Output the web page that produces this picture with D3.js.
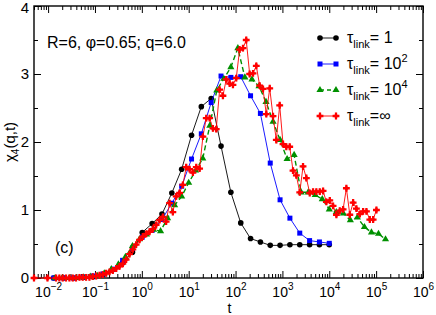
<!DOCTYPE html>
<html>
<head>
<meta charset="utf-8">
<script src="https://cdn.jsdelivr.net/npm/d3@7"></script>
<style>
  body { margin: 0; background: #fff; }
  svg { font-family: "Liberation Sans", Arial, sans-serif; }
</style>
</head>
<body>
<div id="chart"></div>
<script>
// time grid shared by tau_link = 1 and tau_link = 10^2
var tShort = [0.0132, 0.0214, 0.0347, 0.0562, 0.0912, 0.148, 0.240, 0.389, 0.631, 1.02,
  1.66, 2.69, 4.37, 7.08, 11.5, 18.6, 30.2, 49.0, 79.4, 129, 209, 339, 550, 891,
  1445, 2344, 3802, 6166, 10000];
var chiLink1 = [0, 0, 0, 0.01, 0.02, 0.05, 0.12, 0.22, 0.38, 0.67,
  0.80, 0.94, 1.25, 1.60, 2.10, 2.52, 2.64, 1.94, 1.26, 0.81, 0.58, 0.53, 0.48, 0.48,
  0.49, 0.49, 0.49, 0.49, 0.49];
var chiLink100 = [0, 0, 0, 0.01, 0.03, 0.06, 0.13, 0.26, 0.44, 0.60,
  0.70, 0.86, 1.10, 1.35, 1.75, 2.12, 2.58, 2.97, 2.95, 2.96, 2.68, 2.42, 1.69, 1.15,
  0.88, 0.66, 0.55, 0.53, 0.51];

// tau_link = 10^4
var tLink1e4 = [0.0141, 0.02, 0.0282, 0.0398, 0.0562, 0.0794, 0.112, 0.158, 0.224, 0.316,
  0.447, 0.631, 0.891, 1.26, 1.78, 2.51, 3.55, 5.01, 7.08, 10, 14.1, 20.0, 28.2, 39.8,
  56.2, 79.4, 112, 158, 224, 316, 447, 631, 891, 1259, 1778, 2512, 3548, 5012, 7079,
  10000, 14125, 19953, 28184, 39811, 56234, 79433, 112202, 158489];
var chiLink1e4 = [0, 0, 0, 0, 0.01, 0.02, 0.03, 0.07, 0.13, 0.20,
  0.31, 0.47, 0.57, 0.64, 0.71, 0.69, 0.88, 1.07, 1.20, 1.40, 1.58, 1.76, 2.24, 2.76,
  2.93, 3.10, 3.38, 2.95, 2.92, 2.82, 2.59, 2.30, 2.03, 1.75, 1.81, 1.26, 1.26, 1.22, 1.16,
  1.01, 0.97, 0.95, 0.85, 0.89, 0.75, 0.67, 0.65, 0.57];

// tau_link = infinity
var tLinkInf = [0.005, 0.0097, 0.0148, 0.0174, 0.0205, 0.0241, 0.0285, 0.0336, 0.0394, 0.0467,
  0.0548, 0.0646, 0.0762, 0.0897, 0.106, 0.125, 0.147, 0.173, 0.204, 0.240,
  0.284, 0.334, 0.393, 0.462, 0.546, 0.643, 0.755, 0.893, 1.05, 1.24,
  1.46, 1.72, 2.02, 2.39, 2.81, 3.30, 3.91, 4.59, 5.41, 6.39,
  7.52, 8.85, 10.45, 12.3, 14.5, 17.1, 20.1, 23.7, 28.0, 32.9,
  38.7, 45.7, 53.8, 63.3, 74.8, 88.0, 103.5, 122, 144, 169,
  200, 236, 277, 327, 385, 453, 536, 630, 741, 875,
  1030, 1211, 1432, 1683, 1982, 2344, 2754, 3243, 3828, 4508,
  5297, 6266, 7379, 8670, 10250, 12050, 14190, 16750, 19720, 23170,
  27420, 32280, 37930, 44870, 52720, 62090, 73280, 86300, 101400];
var chiLinkInf = [0, 0, 0, 0, 0, 0, 0, 0, 0, 0.01,
  0.01, 0.01, 0.01, 0.02, 0.03, 0.04, 0.05, 0.07, 0.09, 0.11,
  0.14, 0.17, 0.21, 0.27, 0.35, 0.42, 0.49, 0.56, 0.61, 0.65,
  0.68, 0.72, 0.78, 0.85, 0.90, 0.83, 1.10, 0.97, 1.20, 1.25,
  1.37, 1.63, 1.60, 1.55, 1.63, 1.61, 2.08, 2.35, 2.35, 2.20,
  2.19, 2.77, 2.68, 2.92, 2.86, 2.84, 2.94, 3.36, 3.38, 3.50,
  3.00, 3.01, 3.12, 2.83, 2.78, 2.41, 2.79, 2.38, 2.03, 2.54,
  1.97, 1.93, 1.93, 1.58, 1.51, 1.26, 1.64, 1.47, 1.25, 1.27,
  1.27, 1.27, 1.28, 1.12, 1.14, 1.06, 0.93, 0.99, 1.01, 1.32,
  0.93, 1.11, 1.02, 0.94, 0.98, 0.98, 0.86, 0.86, 1.00];

var xDomain = [0.005, 1e6];
var yDomain = [0, 4];
var xExponents = [-2, -1, 0, 1, 2, 3, 4, 5, 6];
var yTicks = [0, 1, 2, 3, 4];

var series = [
  {t: tShort, v: chiLink1, color: "#000000", shape: "circle", dash: null, label: ["= 1", null]},
  {t: tShort, v: chiLink100, color: "#0000ff", shape: "square", dash: null, label: ["= 10", "2"]},
  {t: tLink1e4, v: chiLink1e4, color: "#009000", shape: "triangle", dash: "5,3", label: ["= 10", "4"]},
  {t: tLinkInf, v: chiLinkInf, color: "#ff0000", shape: "cross", dash: null, label: ["=\u221e", null]}
];

var svgWidth = 436, svgHeight = 315;
var margin = {top: 6, right: 13, bottom: 37, left: 34};
var width = svgWidth - margin.left - margin.right;
var height = svgHeight - margin.top - margin.bottom;

var x = d3.scaleLog().domain(xDomain).range([0, width]);
var y = d3.scaleLinear().domain(yDomain).range([height, 0]);

var svg = d3.select("#chart").append("svg")
  .attr("width", svgWidth)
  .attr("height", svgHeight);

var g = svg.append("g")
  .attr("transform", "translate(" + margin.left + "," + margin.top + ")");

// log ticks: majors at decades, minors at 2..9
var majors = xExponents.map(function(e) { return Math.pow(10, e); });
var minors = [];
xExponents.forEach(function(e) {
  for (var m = 2; m <= 9; m++) {
    var v = m * Math.pow(10, e);
    if (v > xDomain[0] && v < xDomain[1]) minors.push(v);
  }
});
[5, 6, 7, 8, 9].forEach(function(m) { if (m * 1e-3 >= xDomain[0]) minors.push(m * 1e-3); });
var yMinors = [0.5, 1.5, 2.5, 3.5];

function drawAxis(axis, transform) {
  var a = g.append("g").attr("transform", transform).call(axis);
  a.select(".domain").remove();
  a.selectAll("line").attr("stroke", "#000").attr("stroke-width", 1);
  return a;
}

var noLabel = function() { return ""; };
drawAxis(d3.axisBottom(x).tickValues(minors).tickSize(-4).tickFormat(noLabel), "translate(0," + height + ")");
drawAxis(d3.axisTop(x).tickValues(minors).tickSize(-4).tickFormat(noLabel), "translate(0,0)");
drawAxis(d3.axisTop(x).tickValues(majors).tickSize(-7).tickFormat(noLabel), "translate(0,0)");
var xAxis = drawAxis(d3.axisBottom(x).tickValues(majors).tickSize(-7), "translate(0," + height + ")");

xAxis.selectAll(".tick text").each(function(d) {
  var t = d3.select(this).text("").attr("y", 19).attr("dy", null)
    .attr("fill", "#000").attr("font-size", 14).attr("font-family", null);
  t.append("tspan").text("10");
  t.append("tspan").attr("font-size", 10).attr("dy", -7).text(String(Math.round(Math.log10(d))).replace("-", "\u2212"));
});

drawAxis(d3.axisLeft(y).tickValues(yMinors).tickSize(-4).tickFormat(noLabel), "translate(0,0)");
drawAxis(d3.axisRight(y).tickValues(yMinors).tickSize(-4).tickFormat(noLabel), "translate(" + width + ",0)");
drawAxis(d3.axisRight(y).tickValues(yTicks).tickSize(-7).tickFormat(noLabel), "translate(" + width + ",0)");
var yAxis = drawAxis(d3.axisLeft(y).tickValues(yTicks).tickSize(-7).tickFormat(d3.format("d")), "translate(0,0)");
yAxis.selectAll(".tick text")
  .attr("x", -5).attr("fill", "#000").attr("font-size", 15).attr("font-family", null);
yAxis.selectAll(".tick text").filter(function(d) { return d === 4; }).attr("dy", "0.45em");

// frame
g.append("rect")
  .attr("width", width).attr("height", height)
  .attr("fill", "none").attr("stroke", "#000").attr("stroke-width", 1.4);

// axis titles
svg.append("text")
  .attr("x", margin.left + width / 2 + 1).attr("y", 313)
  .attr("text-anchor", "middle").attr("font-size", 14)
  .text("t");

var yTitle = svg.append("text")
  .attr("transform", "translate(15," + (margin.top + height / 2) + ") rotate(-90)")
  .attr("text-anchor", "middle").attr("font-size", 15);
yTitle.append("tspan").text("\u03c7");
yTitle.append("tspan").attr("font-size", 10).attr("dy", 4).text("4");
yTitle.append("tspan").attr("dy", -4).text("(q,t)");

// annotations
g.append("text").attr("x", 13).attr("y", 42).attr("font-size", 16)
  .text("R=6, \u03c6=0.65; q=6.0");
g.append("text").attr("x", 21).attr("y", 247).attr("font-size", 16)
  .text("(c)");

function drawMarker(sel, shape, color) {
  if (shape === "circle") {
    sel.append("circle").attr("r", 2.8).attr("fill", color);
  } else if (shape === "square") {
    sel.append("rect").attr("x", -2.5).attr("y", -2.5).attr("width", 5).attr("height", 5).attr("fill", color);
  } else if (shape === "triangle") {
    sel.append("path").attr("d", d3.symbol().type(d3.symbolTriangle).size(22)).attr("fill", color);
  } else {
    sel.append("path").attr("d", d3.symbol().type(d3.symbolCross).size(26)).attr("fill", color);
    sel.append("path").attr("d", d3.symbol().type(d3.symbolDiamond).size(14)).attr("fill", color);
  }
}

var line = d3.line()
  .x(function(d) { return x(d[0]); })
  .y(function(d) { return y(d[1]); });

series.forEach(function(s) {
  var pts = s.t.map(function(t, i) { return [t, s.v[i]]; });
  g.append("path")
    .datum(pts)
    .attr("fill", "none")
    .attr("stroke", s.color)
    .attr("stroke-width", s.dash ? 1.4 : 0.9)
    .attr("stroke-dasharray", s.dash)
    .attr("d", line);
  g.append("g").selectAll("g")
    .data(pts)
    .enter().append("g")
    .attr("transform", function(d) { return "translate(" + x(d[0]) + "," + y(d[1]) + ")"; })
    .each(function() { drawMarker(d3.select(this), s.shape, s.color); });
});

// legend
var legend = g.append("g").attr("transform", "translate(286,32)");
series.forEach(function(s, i) {
  var row = legend.append("g").attr("transform", "translate(0," + (i * 26) + ")");
  row.append("line").attr("x1", 0).attr("x2", 16)
    .attr("stroke", s.color).attr("stroke-width", s.dash ? 1.4 : 0.9)
    .attr("stroke-dasharray", s.dash ? "4,3" : null);
  [0, 16].forEach(function(px) {
    drawMarker(row.append("g").attr("transform", "translate(" + px + ",0)"), s.shape, s.color);
  });
  var txt = row.append("text").attr("x", 27).attr("y", 5).attr("font-size", 16);
  txt.append("tspan").text("\u03c4");
  txt.append("tspan").attr("font-size", 11).attr("dy", 5).text("link");
  txt.append("tspan").attr("dy", -5).text(s.label[0]);
  if (s.label[1]) txt.append("tspan").attr("font-size", 11).attr("dy", -7).text(s.label[1]);
});
</script>
</body>
</html>
